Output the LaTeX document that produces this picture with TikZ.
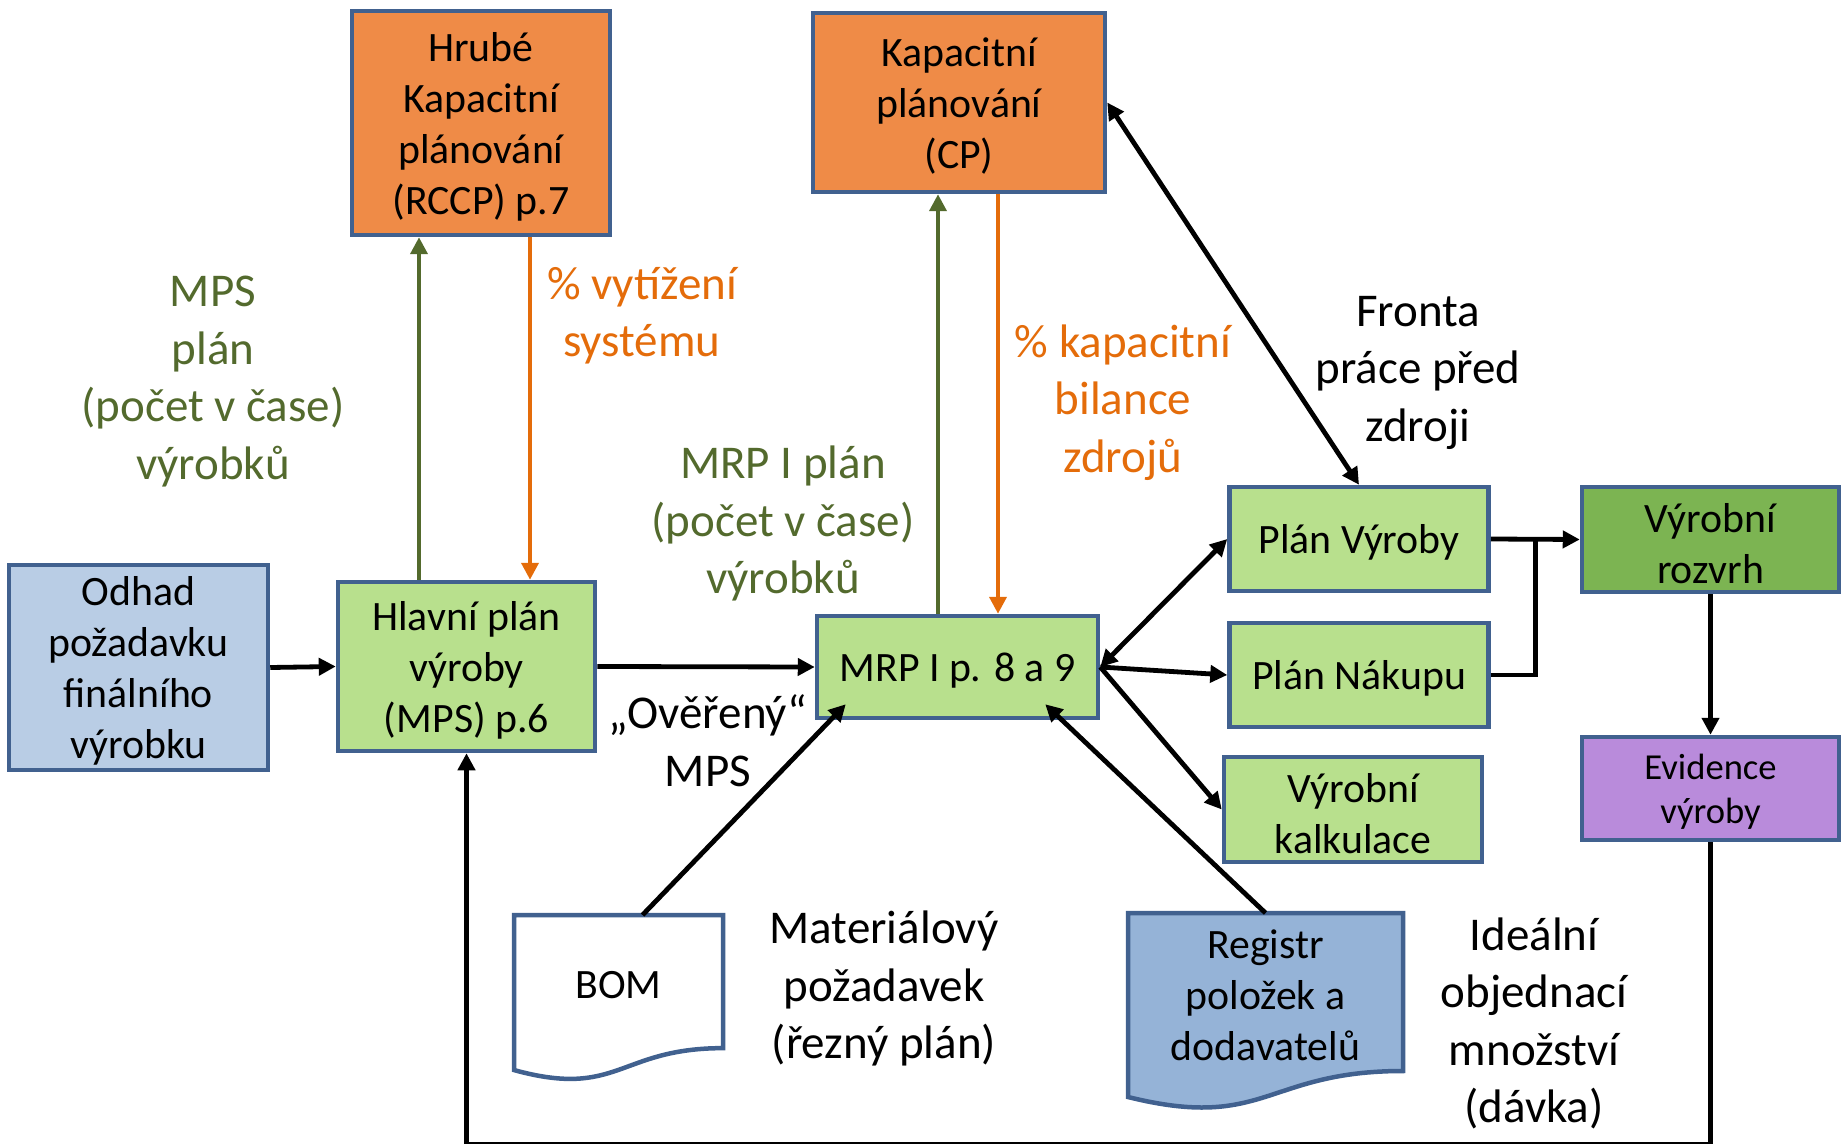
\documentclass[tikz,border=0pt]{standalone}
\usepackage{fontspec}
\setmainfont{Carlito}
\usetikzlibrary{arrows.meta,calc}
\definecolor{bordc}{HTML}{41618F}
\definecolor{lblue}{HTML}{B9CDE5}
\definecolor{rblue}{HTML}{95B3D7}
\definecolor{lgreen}{HTML}{B8E08D}
\definecolor{dgreen}{HTML}{7CB452}
\definecolor{purp}{HTML}{B98BDB}
\definecolor{orangef}{HTML}{EF8B47}
\definecolor{olivet}{HTML}{536A2D}
\definecolor{oranget}{HTML}{E46C0A}
\newcommand{\myboxfont}{\fontsize{20.9pt}{25.5pt}\selectfont}
\newcommand{\mylabelfont}{\fontsize{23.5pt}{28.75pt}\selectfont}
\newcommand{\mysmallfont}{\fontsize{18.3pt}{22.3pt}\selectfont}
\begin{document}
\begin{tikzpicture}[x=0.5pt,y=-0.5pt,
  box/.style={draw=bordc, line width=2.25pt, inner sep=0pt},
  boxtext/.style={align=center, inner sep=0pt, font=\myboxfont, yshift=-1.9pt},
  smalltext/.style={align=center, inner sep=0pt, font=\mysmallfont, yshift=-1.7pt},
  txt/.style={label={[boxtext]center:{#1}}},
  stxt/.style={label={[smalltext]center:{#1}}},
  docbox/.style={draw=bordc, line width=2.25pt},
  helper/.style={inner sep=0pt, outer sep=0pt, minimum width=#1},
  lbl/.style={align=center, inner sep=0pt, font=\mylabelfont, yshift=-1.75pt},
  tip/.style={-{Triangle[length=8.5pt,width=8.5pt]}},
  arr/.style={draw=black, line width=2.4pt, tip},
  darr/.style={draw=black, line width=2.4pt, {Triangle[length=8.5pt,width=8.5pt]}-{Triangle[length=8.5pt,width=8.5pt]}},
  plain/.style={draw=black, line width=2.4pt},
  garr/.style={draw=olivet, line width=2pt, tip},
  oarr/.style={draw=oranget, line width=2pt, tip}]
\useasboundingbox (0,0) rectangle (1841,1144);

% boxes
\node[box, fill=lblue, minimum width=129.5pt, minimum height=102.5pt, txt={Odhad\\požadavku\\finálního\\výrobku}] (odhad) at (138.5,667.5) {};
\node[box, fill=lgreen, minimum width=128.5pt, minimum height=84.5pt, txt={Hlavní plán\\výroby\\(MPS) p.6}] (hlavni) at (466.5,666.5) {};
\node[box, fill=orangef, minimum width=129pt, minimum height=112pt, txt={Hrubé\\Kapacitní\\plánování\\(RCCP) p.7}] (hrube) at (481,123) {};
\node[box, fill=orangef, minimum width=146pt, minimum height=89.5pt, txt={Kapacitní\\plánování\\(CP)}] (kap) at (959,102.5) {};
\node[box, fill=lgreen, minimum width=140.5pt, minimum height=51pt, txt={MRP I p. 8 a 9}] (mrp) at (957.5,667) {};
\node[box, fill=lgreen, minimum width=129.5pt, minimum height=52pt, txt={Plán Výroby}] (planv) at (1359,539) {};
\node[box, fill=lgreen, minimum width=129.5pt, minimum height=52pt, txt={Plán Nákupu}] (plann) at (1359,675) {};
\node[box, fill=lgreen, minimum width=129pt, minimum height=52.5pt, txt={Výrobní\\kalkulace}] (kalk) at (1353,809.5) {};
\node[box, fill=dgreen, minimum width=128.5pt, minimum height=52.5pt, txt={Výrobní\\rozvrh}] (rozvrh) at (1710.5,539.5) {};
\node[box, fill=purp, minimum width=128.5pt, minimum height=51.5pt, stxt={Evidence\\výroby}] (evid) at (1710.5,788.5) {};

% document shapes
\node[helper=104.5pt, minimum height=83pt] (bom) at (618.5,998) {};
\draw[docbox, fill=white] (bom.north west) -- (bom.north east) -- ($(bom.north east)!0.802!(bom.south east)$)
  .. controls ($(bom.north)!0.802!(bom.south)$) and ($(bom.north)!1.1075!(bom.south)$) .. ($(bom.north west)!0.934!(bom.south west)$) -- cycle;
\node[boxtext] (bomtext) at ($(bom.north)!0.4!(bom.south)$) {BOM};

\node[helper=137.5pt, minimum height=98.5pt] (reg) at (1265.5,1011.5) {};
\draw[docbox, fill=rblue] (reg.north west) -- (reg.north east) -- ($(reg.north east)!0.802!(reg.south east)$)
  .. controls ($(reg.north)!0.802!(reg.south)$) and ($(reg.north)!1.1075!(reg.south)$) .. ($(reg.north west)!0.934!(reg.south west)$) -- cycle;
\node[boxtext] (regtext) at ($(reg.north)!0.4!(reg.south)$) {Registr\\položek a\\dodavatelů};

% labels
\node[lbl, text=olivet] (l1) at (213,378) {MPS\\plán\\(počet v čase)\\výrobků};
\node[lbl, text=oranget] (l2) at (642,312) {\% vytížení\\systému};
\node[lbl, text=olivet] (l3) at (783,520) {MRP I plán\\(počet v čase)\\výrobků};
\node[lbl, text=oranget] (l4) at (1123,399) {\% kapacitní\\bilance\\zdrojů};
\node[lbl] (l5) at (1418,369) {Fronta\\práce před\\zdroji};
\node[lbl] (l6) at (708,737) {„Ověřený“\\MPS};
\node[lbl] (l7) at (884,985) {Materiálový\\požadavek\\(řezný plán)};
\node[lbl] (l8) at (1534,1020) {Ideální\\objednací\\množství\\(dávka)};

% helper coordinates
\coordinate (g1) at ($(hlavni.north)+(-47.5,0)$);
\coordinate (o1) at ($(hrube.south)+(49,0)$);
\coordinate (g2) at ($(mrp.north)+(-19.5,0)$);
\coordinate (o2) at ($(kap.south)+(39,0)$);
\coordinate (jn) at ($(planv.east)!0.5!(rozvrh.west)$);
\coordinate (bottom) at (0,1144.5);

% connectors
\draw[arr] (odhad.east) -- (hlavni.west);
\draw[arr] (hlavni.east) -- (mrp.west);
\draw[garr] (g1) -- (g1 |- hrube.south);
\draw[oarr] (o1) -- (o1 |- hlavni.north);
\draw[garr] (g2) -- (g2 |- kap.south);
\draw[oarr] (o2) -- (o2 |- mrp.north);
\draw[darr] (kap.east) -- (planv.north);
\draw[darr] (mrp.east) -- (planv.west);
\draw[arr] (mrp.east) -- (plann.west);
\draw[arr] (mrp.east) -- (kalk.west);
\draw[arr] ($(bom.north)+(24,0)$) -- ($(mrp.south west)+(31,-16)$);
\draw[arr] (reg.north) -- ($(mrp.south east)+(-55,-16)$);
\draw[arr] (planv.east) -- (rozvrh.west);
\draw[plain] (plann.east) -| (jn);
\draw[arr] (rozvrh.south) -- (evid.north);
\draw[arr] (evid.south) -- (evid.south |- bottom) -| (hlavni.south);
\end{tikzpicture}
\end{document}
